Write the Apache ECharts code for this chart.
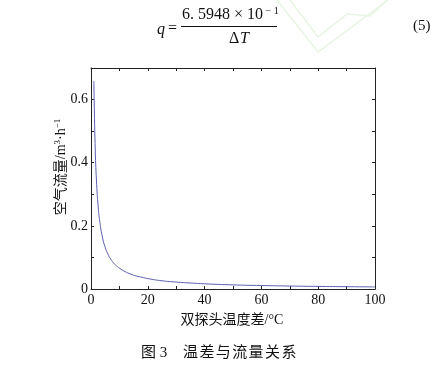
<!DOCTYPE html>
<html><head><meta charset="utf-8">
<script src="https://cdn.jsdelivr.net/npm/echarts@6/dist/echarts.min.js"></script>
<style>html,body{margin:0;padding:0;background:#fff}#c{width:443px;height:366px}</style>
</head><body><div id="c"></div>
<script>
// Data
var tempDiff = [1, 1.5, 2, 2.5, 3, 4, 5, 6, 7, 8, 9, 10, 12, 14, 16, 18, 20, 25, 30, 35, 40, 50, 60, 70, 80, 90, 100];
var airFlow  = [0.659, 0.440, 0.330, 0.264, 0.220, 0.165, 0.132, 0.110, 0.094, 0.082, 0.073, 0.066, 0.055, 0.047, 0.041, 0.037, 0.033, 0.026, 0.022, 0.019, 0.0165, 0.013, 0.011, 0.0094, 0.0082, 0.0073, 0.0066];
var xTicks = [0, 20, 40, 60, 80, 100];
var yTicks = [0, 0.2, 0.4, 0.6];
var xTitle = '双探头温度差/°C';
var captionNo = '图 3';
var captionText = ['温', '差', '与', '流', '量', '关', '系'];

var serif = '"Liberation Serif","DejaVu Serif",serif';
var cjk = '"Liberation Serif","Noto Sans CJK SC",serif';
var axisColor = '#222';

var pts = tempDiff.map(function (x, i) { return [x, airFlow[i]]; });

var chart = echarts.init(document.getElementById('c'), null, {renderer: 'canvas'});
function axis(extra) {
  return Object.assign({
    axisLine: {show: true, onZero: false, lineStyle: {color: axisColor, width: 1}},
    axisTick: {show: true, inside: true, length: 3, lineStyle: {color: axisColor}},
    splitLine: {show: false}
  }, extra);
}
var graphics = [
  // faint watermark
  {type: 'polyline', z: -1, shape: {points: [[277,0],[318,52],[388,0]]}, style: {stroke: '#e8f5e4', lineWidth: 1.5, fill: null}},
  {type: 'polyline', z: -1, shape: {points: [[290,0],[318,37],[347,14],[370,16],[387,0]]}, style: {stroke: '#e8f5e4', lineWidth: 1.5, fill: null}},
  // formula
  {type: 'text', left: 157, top: 22, style: {text: 'q', font: 'italic 16px ' + serif, fill: '#111'}},
  {type: 'text', left: 168, top: 21, style: {text: '=', font: '16px ' + serif, fill: '#111'}},
  {type: 'text', left: 182, top: 6, style: {
    text: '{a|6. 5948 × 10}{s| − 1}', rich: {
      a: {font: '16px ' + serif, fill: '#111'},
      s: {font: '10px ' + serif, fill: '#111', verticalAlign: 'top', padding: [0,0,8,0]}
    }}},
  {type: 'line', shape: {x1: 181, y1: 26.5, x2: 277, y2: 26.5}, style: {stroke: '#111', lineWidth: 1}},
  {type: 'text', left: 229, top: 31, style: {text: 'Δ', font: '16px ' + serif, fill: '#111'}},
  {type: 'text', left: 240, top: 31, style: {text: 'T', font: 'italic 16px ' + serif, fill: '#111'}},
  {type: 'text', left: 413, top: 19, style: {text: '(5)', font: '15px ' + serif, fill: '#111'}},
  // y axis title (rotated)
  {type: 'text', x: 61, y: 167, rotation: Math.PI / 2, style: {
    text: '{c|空气流量/m}{s|3}{c|·h}{s|−1}', align: 'center', verticalAlign: 'middle', rich: {
      c: {font: '14px ' + cjk, fill: '#111'},
      s: {font: '9px ' + serif, fill: '#111', verticalAlign: 'top', padding: [0,0,6,0]}
    }}},
  // x axis title
  {type: 'text', x: 232, y: 320, style: {text: xTitle, font: '14px ' + cjk, fill: '#111', align: 'center', verticalAlign: 'middle'}},
  // caption
  {type: 'text', x: 141, y: 353, style: {text: captionNo, font: '15px ' + cjk, fill: '#111', align: 'left', verticalAlign: 'middle'}}
];
captionText.forEach(function (ch, i) {
  graphics.push({type: 'text', x: 183 + i * 16.4, y: 353, style: {text: ch, font: '15px ' + cjk, fill: '#111', align: 'left', verticalAlign: 'middle'}});
});

chart.setOption({
  animation: false,
  backgroundColor: '#fff',
  grid: {left: 91, right: 68, top: 68, bottom: 77},
  xAxis: [
    axis({type: 'value', min: 0, max: 100, interval: 10, position: 'bottom',
      axisLabel: {color: '#111', fontFamily: serif, fontSize: 14, margin: 4,
        formatter: function (v) { return xTicks.indexOf(v) >= 0 ? String(v) : ''; }}}),
    axis({type: 'value', min: 0, max: 100, interval: 10, position: 'top', axisLabel: {show: false}})
  ],
  yAxis: [
    axis({type: 'value', min: 0, max: 0.7, interval: 0.1, position: 'left',
      axisLabel: {color: '#111', fontFamily: serif, fontSize: 14, margin: 3,
        formatter: function (v) {
          var r = Math.round(v * 10) / 10;
          return yTicks.indexOf(r) >= 0 ? String(r) : '';
        }}}),
    axis({type: 'value', min: 0, max: 0.7, interval: 0.1, position: 'right', axisLabel: {show: false}})
  ],
  series: [{
    type: 'line', data: pts, smooth: true, showSymbol: false,
    lineStyle: {color: '#5b5faf', width: 1}, xAxisIndex: 0, yAxisIndex: 0
  }],
  graphic: graphics
});
</script></body></html>
